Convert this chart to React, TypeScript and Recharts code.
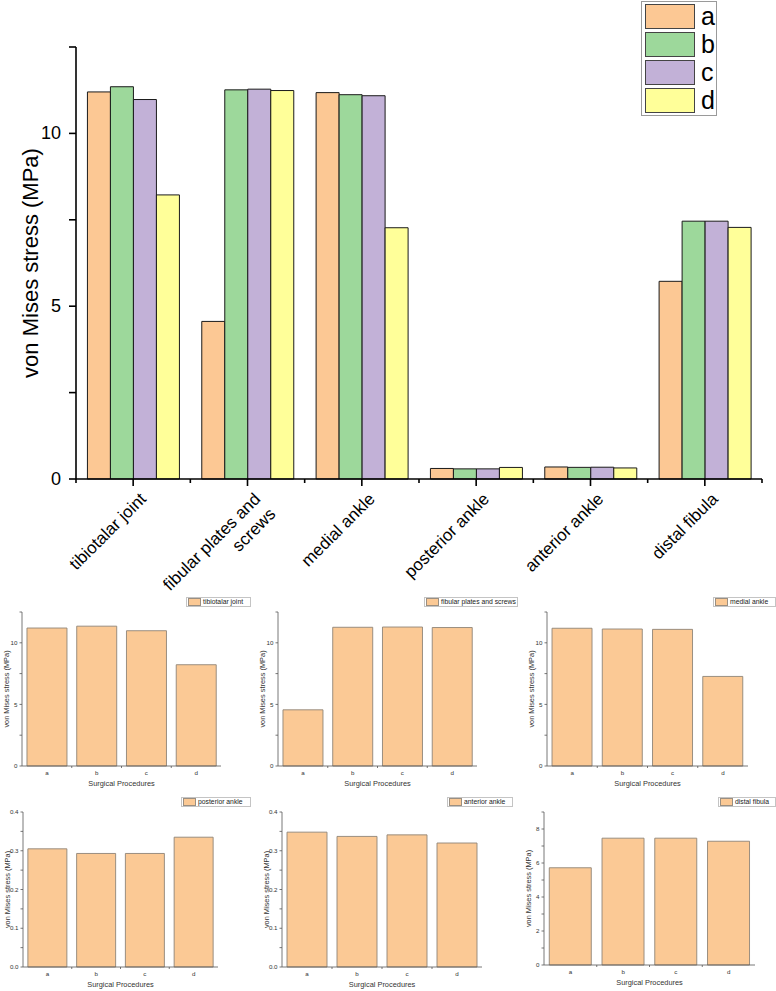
import React from 'react';
import { BarChart, Bar, XAxis, YAxis, Legend } from 'recharts';

// sites of the model (main chart categories)
const sites = [
  'tibiotalar joint',
  'fibular plates and screws',
  'medial ankle',
  'posterior ankle',
  'anterior ankle',
  'distal fibula',
];

// surgical procedures
const procedures = ['a', 'b', 'c', 'd'];

// von Mises stress (MPa) per site, one array per procedure
const stressA = [11.2, 4.56, 11.18, 0.305, 0.348, 5.72];
const stressB = [11.35, 11.26, 11.12, 0.293, 0.337, 7.46];
const stressC = [10.98, 11.28, 11.09, 0.293, 0.341, 7.46];
const stressD = [8.22, 11.24, 7.27, 0.335, 0.32, 7.28];
const allStress = [stressA, stressB, stressC, stressD];

const procColors = ['#FCC894', '#9DD89B', '#C2B1D7', '#FFFF99'];
const panelFill = '#FBC995';

// main chart y ticks
const mainTicks = [0, 2.5, 5, 7.5, 10, 12.5];
const mainLabelled = [0, 5, 10];

// small panel axes
const panelMax = [12.5, 12.5, 12.5, 0.4, 0.4, 9];
const panelTicks = [
  [0, 2.5, 5, 7.5, 10, 12.5],
  [0, 2.5, 5, 7.5, 10, 12.5],
  [0, 2.5, 5, 7.5, 10, 12.5],
  [0, 0.05, 0.1, 0.15, 0.2, 0.25, 0.3, 0.35, 0.4],
  [0, 0.05, 0.1, 0.15, 0.2, 0.25, 0.3, 0.35, 0.4],
  [0, 1, 2, 3, 4, 5, 6, 7, 8, 9],
];
const panelLabelled = [
  [0, 5, 10],
  [0, 5, 10],
  [0, 5, 10],
  [0, 0.1, 0.2, 0.3, 0.4],
  [0, 0.1, 0.2, 0.3, 0.4],
  [0, 2, 4, 6, 8],
];
const panelDecimals = [0, 0, 0, 1, 1, 0];

// where each small panel sits on the page (axis box + legend)
const panelLayout = [
  { axisX: 22, axisEnd: 221, top: 612, bottom: 766, legendX: 186, legendY: 597, legendW: 65 },
  { axisX: 278, axisEnd: 477, top: 612, bottom: 766, legendX: 424, legendY: 597, legendW: 94 },
  { axisX: 547, axisEnd: 748, top: 612, bottom: 766, legendX: 713, legendY: 597, legendW: 63 },
  { axisX: 23, axisEnd: 218, top: 812, bottom: 967, legendX: 181, legendY: 797, legendW: 70 },
  { axisX: 282, axisEnd: 482, top: 812, bottom: 967, legendX: 447, legendY: 797, legendW: 66 },
  { axisX: 544, axisEnd: 755, top: 812, bottom: 965, legendX: 718, legendY: 797, legendW: 58 },
];

const FONT = '"Liberation Sans", Arial, sans-serif';

const mainData = sites.map((site, i) => ({
  site,
  a: stressA[i],
  b: stressB[i],
  c: stressC[i],
  d: stressD[i],
}));

// main chart geometry
const MAIN_W = 776;
const MAIN_H = 600;
const M_TOP = 47;
const M_RIGHT = 14;
const Y_W = 76;
const X_H = 121;
const plotW = MAIN_W - M_RIGHT - Y_W;
const plotH = MAIN_H - M_TOP - X_H;
const band = plotW / sites.length;

const wrap = (s: string, max: number) => {
  const words = s.split(' ');
  const lines: string[] = [];
  let cur = '';
  words.forEach(w => {
    if (cur && (cur + ' ' + w).length > max) {
      lines.push(cur);
      cur = w;
    } else {
      cur = cur ? cur + ' ' + w : w;
    }
  });
  if (cur) lines.push(cur);
  return lines;
};

const MainXTick = (props: any) => {
  const { x, y, payload, index } = props;
  const axisY = y - 9;
  const lines = wrap(String(payload.value), 18);
  return (
    <g>
      <line x1={x - band / 2} x2={x - band / 2} y1={axisY} y2={axisY + 4} stroke="#000" strokeWidth={1.6} />
      {index === sites.length - 1 && (
        <line x1={x + band / 2} x2={x + band / 2} y1={axisY} y2={axisY + 4} stroke="#000" strokeWidth={1.6} />
      )}
      <text
        transform={`translate(${x + 14},${y + 12}) rotate(-45)`}
        textAnchor="end"
        fontSize={17}
        fontFamily={FONT}
        fill="#000"
      >
        {lines.map((l, k) => (
          <tspan key={k} x={0} dy={k === 0 ? 0 : '1.25em'}>
            {l}
          </tspan>
        ))}
      </text>
    </g>
  );
};

const MainYTick = (props: any) => {
  const { x, y, payload } = props;
  if (!mainLabelled.includes(payload.value)) return <g />;
  return (
    <text x={x} y={y} dy={6} textAnchor="end" fontSize={18} fontFamily={FONT} fill="#000">
      {payload.value}
    </text>
  );
};

const MainLegend = () => (
  <div
    style={{
      width: 76,
      height: 115,
      border: '1px solid #9a9a9a',
      boxSizing: 'border-box',
      position: 'relative',
      background: '#fff',
    }}
  >
    {procedures.map((p, i) => (
      <div
        key={p}
        style={{ position: 'absolute', left: 3, top: 2 + i * 28, display: 'flex', alignItems: 'center' }}
      >
        <div
          style={{
            width: 50,
            height: 25,
            background: procColors[i],
            border: '1px solid #444',
            boxSizing: 'border-box',
          }}
        />
        <span style={{ marginLeft: 6, fontSize: 25, lineHeight: '25px', fontFamily: FONT, color: '#000' }}>{p}</span>
      </div>
    ))}
  </div>
);

const MainChart = () => (
  <div style={{ position: 'absolute', left: 0, top: 0 }}>
    <BarChart
      width={MAIN_W}
      height={MAIN_H}
      data={mainData}
      margin={{ top: M_TOP, right: M_RIGHT, left: 0, bottom: 0 }}
      barCategoryGap="10%"
      barGap={0}
    >
      <XAxis
        dataKey="site"
        height={X_H}
        interval={0}
        tickSize={7}
        tickMargin={2}
        stroke="#000"
        strokeWidth={1.6}
        tick={<MainXTick />}
      />
      <YAxis
        width={Y_W}
        domain={[0, 12.5]}
        ticks={mainTicks}
        interval={0}
        tickSize={7}
        tickMargin={8}
        stroke="#000"
        strokeWidth={1.6}
        tick={<MainYTick />}
        label={(p: any) => {
          const cy = M_TOP + plotH / 2;
          return (
            <text
              x={30}
              y={cy}
              transform={`rotate(-90, 30, ${cy})`}
              textAnchor="middle"
              dominantBaseline="central"
              fontSize={22}
              fontFamily={FONT}
              fill="#000"
            >
              von Mises stress (MPa)
            </text>
          );
        }}
      />
      <Legend
        layout="horizontal"
        verticalAlign="middle"
        align="center"
        content={<MainLegend />}
        wrapperStyle={{ left: 641, top: 1, width: 76, height: 115 }}
      />
      {procedures.map((p, i) => (
        <Bar key={p} dataKey={p} fill={procColors[i]} stroke="#1a1a1a" strokeWidth={1} isAnimationActive={false} />
      ))}
    </BarChart>
  </div>
);

const P_YW = 22;
const P_TOP = 20;
const P_XH = 28;
const P_RIGHT = 3;

const Panel = ({ idx }: { idx: number }) => {
  const L = panelLayout[idx];
  const left = L.axisX - P_YW;
  const top = L.top - P_TOP;
  const w = L.axisEnd - left + P_RIGHT;
  const h = L.bottom - L.top + P_TOP + P_XH;
  const pBand = (L.axisEnd - L.axisX) / procedures.length;
  const data = procedures.map((p, j) => ({ proc: p, value: allStress[j][idx] }));
  const labelled = panelLabelled[idx];
  const dec = panelDecimals[idx];

  const XTick = (props: any) => {
    const { x, y, payload, index } = props;
    return (
      <g>
        {index > 0 && (
          <line x1={x - pBand / 2} x2={x - pBand / 2} y1={y} y2={y + 2} stroke="#555" strokeWidth={0.8} />
        )}
        <text x={x} y={y + 9} textAnchor="middle" fontSize={6.2} fontFamily={FONT} fill="#333">
          {payload.value}
        </text>
      </g>
    );
  };

  const YTick = (props: any) => {
    const { x, y, payload } = props;
    if (!labelled.some(v => Math.abs(v - payload.value) < 1e-9)) return <g />;
    return (
      <text x={x} y={y} dy={2.2} textAnchor="end" fontSize={6.2} fontFamily={FONT} fill="#333">
        {Number(payload.value).toFixed(dec)}
      </text>
    );
  };

  const PanelLegend = () => (
    <div
      style={{
        width: L.legendW,
        height: 10,
        border: '1px solid #c4c4c4',
        boxSizing: 'border-box',
        background: '#fff',
        display: 'flex',
        alignItems: 'center',
        overflow: 'hidden',
        whiteSpace: 'nowrap',
      }}
    >
      <div
        style={{
          width: 13,
          height: 8,
          marginLeft: 1,
          background: panelFill,
          border: '1px solid #9a8f82',
          boxSizing: 'border-box',
          flex: 'none',
        }}
      />
      <span style={{ marginLeft: 2, fontSize: 6.8, lineHeight: '8px', fontFamily: FONT, color: '#222' }}>
        {sites[idx]}
      </span>
    </div>
  );

  return (
    <div style={{ position: 'absolute', left, top }}>
      <BarChart
        width={w}
        height={h}
        data={data}
        margin={{ top: P_TOP, right: P_RIGHT, left: 0, bottom: 0 }}
        barCategoryGap="10%"
      >
        <XAxis
          dataKey="proc"
          height={P_XH}
          interval={0}
          tickLine={false}
          tickSize={0}
          tickMargin={0}
          stroke="#555"
          strokeWidth={0.8}
          tick={<XTick />}
          label={(p: any) => {
            const vb = p.viewBox || {};
            return (
              <text
                x={L.axisX - left + (L.axisEnd - L.axisX) / 2}
                y={(vb.y ?? L.bottom - top) + 20}
                textAnchor="middle"
                fontSize={7.4}
                fontFamily={FONT}
                fill="#333"
              >
                Surgical Procedures
              </text>
            );
          }}
        />
        <YAxis
          width={P_YW}
          domain={[0, panelMax[idx]]}
          ticks={panelTicks[idx]}
          interval={0}
          tickSize={2.5}
          tickMargin={2}
          stroke="#555"
          strokeWidth={0.8}
          tick={<YTick />}
          label={() => {
            const cy = P_TOP + (L.bottom - L.top) / 2;
            const cx = P_YW - 16;
            return (
              <text
                x={cx}
                y={cy}
                transform={`rotate(-90, ${cx}, ${cy})`}
                textAnchor="middle"
                dominantBaseline="central"
                fontSize={7.4}
                fontFamily={FONT}
                fill="#333"
              >
                von Mises stress (MPa)
              </text>
            );
          }}
        />
        <Legend
          layout="horizontal"
          verticalAlign="middle"
          align="center"
          content={<PanelLegend />}
          wrapperStyle={{ left: L.legendX - left, top: L.legendY - top, width: L.legendW, height: 10 }}
        />
        <Bar dataKey="value" fill={panelFill} stroke="#8f8577" strokeWidth={0.9} isAnimationActive={false} />
      </BarChart>
    </div>
  );
};

export default function App() {
  return (
    <div
      style={{
        position: 'absolute',
        left: 0,
        top: 0,
        width: 776,
        height: 991,
        background: '#fff',
        fontFamily: FONT,
        overflow: 'hidden',
      }}
    >
      <MainChart />
      {sites.map((s, i) => (
        <Panel key={s} idx={i} />
      ))}
    </div>
  );
}
